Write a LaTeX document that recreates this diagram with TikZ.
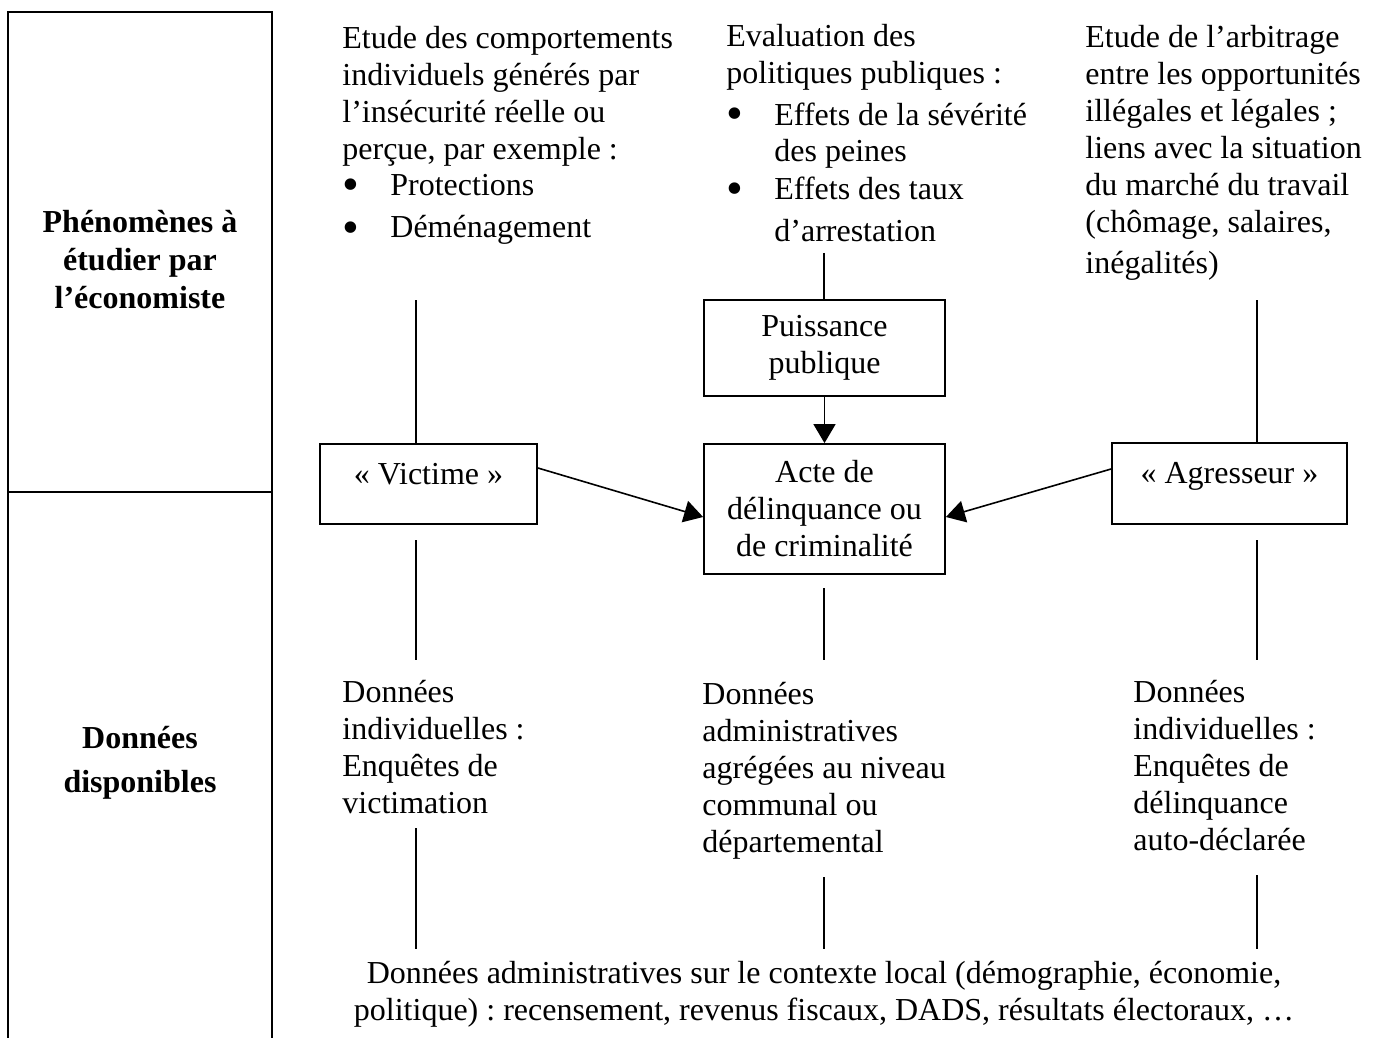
\documentclass[tikz,border=0pt]{standalone}
\usepackage{fontspec}
\setmainfont{Liberation Serif}
\usetikzlibrary{arrows.meta}

\frenchspacing
\newcommand{\puce}{\makebox[24pt][l]{\raisebox{-2.5pt}{\fontsize{24}{0}\selectfont\textbullet}}}
\newcommand{\corps}{\fontsize{16}{18.5}\selectfont}

\tikzset{
	boite/.style={draw, line width=0.9pt, inner sep=0pt, align=center},
	texte/.style={inner sep=0pt, align=left, anchor=base west},
	titre/.style={inner sep=0pt, align=center, anchor=base, font=\corps\bfseries},
	trait/.style={line width=0.8pt},
	fleche/.style={line width=0.8pt, -{Triangle[length=9.5pt,width=11pt]}}
}

\begin{document}
\begin{tikzpicture}[x=0.5pt, y=-0.5pt, font=\corps]
	\useasboundingbox (0,0) rectangle (1378,1038);
	\draw[line width=0.9pt] (8,1038) -- (8,12) -- (272,12) -- (272,1038);
	\draw[line width=0.9pt] (8,492) -- (272,492);
	\node[titre] (phenomenes) at (140,308) {Phénomènes à\\[0.5pt]étudier par\\[0.5pt]l’économiste};
	\node[titre] (donnees) at (140,792) {Données\\[3.5pt]disponibles};

	\node[texte] (comportements) at (342,238) {Etude des comportements\\individuels générés par\\l’insécurité réelle ou\\perçue, par exemple :\\\puce Protections\\[2.5pt]\puce Déménagement};
	\node[texte] (evaluation) at (726,242) {Evaluation des\\politiques publiques :\\[2pt]\puce Effets de la sévérité\\\hspace*{24pt}des peines\\[0.5pt]\puce Effets des taux\\[2.5pt]\hspace*{24pt}d’arrestation};
	\node[texte] (arbitrage) at (1085,273) {Etude de l’arbitrage\\entre les opportunités\\illégales et légales ;\\liens avec la situation\\du marché du travail\\(chômage, salaires,\\[2pt]inégalités)};

	\node[boite, minimum width=120.5pt, minimum height=48pt] (puissance) at (824.5,348) {Puissance\\publique};
	\node[boite, minimum width=120.5pt, minimum height=65pt] (acte) at (824.5,509) {Acte de\\délinquance ou\\de criminalité};
	\node[boite, minimum width=108.5pt, minimum height=40pt, text height=8pt, text depth=8pt] (victime) at (428.5,484) {« Victime »};
	\node[boite, minimum width=117.5pt, minimum height=40.5pt, text height=8pt, text depth=8pt] (agresseur) at (1229.5,483.5) {« Agresseur »};

	\node[texte] (victimation) at (342,813) {Données\\individuelles :\\Enquêtes de\\victimation};
	\node[texte] (administratives) at (702,852) {Données\\administratives\\agrégées au niveau\\communal ou\\départemental};
	\node[texte] (autodeclaree) at (1133,850) {Données\\individuelles :\\Enquêtes de\\délinquance\\auto-déclarée};
	\node[inner sep=0pt, align=center, anchor=base] (contexte) at (824,1020) {Données administratives sur le contexte local (démographie, économie,\\politique) : recensement, revenus fiscaux, DADS, résultats électoraux, …};

	\coordinate (hautV) at (416,300);
	\coordinate (hautP) at (824,253);
	\coordinate (hautA) at (1257,300);
	\draw[trait] (hautV) -- (hautV |- victime.north);
	\draw[trait] (hautP) -- (hautP |- puissance.north);
	\draw[trait] (hautA) -- (hautA |- agresseur.north);
	\foreach \x/\a/\b in {416/540/660, 824/588/660, 1257/540/660, 416/828/949, 824/877/949, 1257/875/949}
		\draw[trait] (\x,\a) -- (\x,\b);

	\draw[fleche] (puissance.south) -- (acte.north);
	\draw[fleche] ([yshift=8pt]victime.east) -- ([yshift=-4pt]acte.west);
	\draw[fleche] ([yshift=7.25pt]agresseur.west) -- ([yshift=-4pt]acte.east);
\end{tikzpicture}
\end{document}
